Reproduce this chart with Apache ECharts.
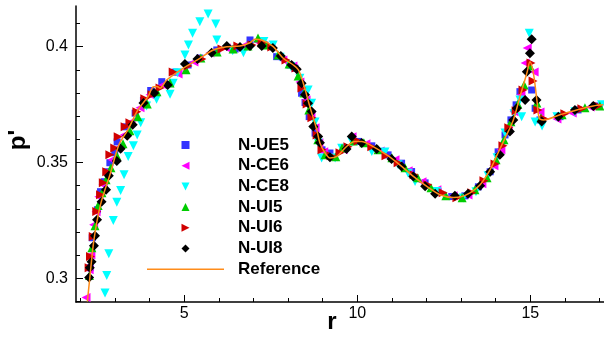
<!DOCTYPE html>
<html><head><meta charset="utf-8">
<script src="https://cdn.jsdelivr.net/npm/echarts@6/dist/echarts.min.js"></script>
<style>html,body{margin:0;padding:0;background:#fff}#c{width:604px;height:341px}</style>
</head><body><div id="c"></div>
<script>
const xTicks = [5, 10, 15];
const yTicks = [0.3, 0.35, 0.4];
const seriesNames = ['N-UE5', 'N-CE6', 'N-CE8', 'N-UI5', 'N-UI6', 'N-UI8', 'Reference'];

const nUE5 = [[2.28,0.3046],[2.34,0.3175],[2.49,0.3296],[2.58,0.3374],[2.68,0.3417],[2.77,0.3460],[2.85,0.3499],[2.99,0.3542],[3.06,0.3589],[3.32,0.3654],[3.58,0.3713],[3.82,0.3768],[4.03,0.3811],[4.35,0.3849],[4.73,0.3890],[5.11,0.3921],[5.45,0.3951],[5.94,0.3986],[6.47,0.3990],[6.90,0.4029],[7.33,0.4007],[7.67,0.3957],[8.05,0.3921],[8.20,0.3907],[8.39,0.3799],[8.49,0.3759],[8.61,0.3698],[8.78,0.3627],[8.98,0.3555],[9.21,0.3541],[9.64,0.3563],[10.03,0.3591],[10.42,0.3572],[10.89,0.3533],[11.28,0.3497],[11.57,0.3461],[11.96,0.3412],[12.33,0.3374],[12.73,0.3353],[13.11,0.3356],[13.50,0.3395],[13.84,0.3460],[14.07,0.3546],[14.27,0.3619],[14.44,0.3684],[14.59,0.3749],[14.70,0.3806],[15.04,0.3813],[15.14,0.3734],[15.28,0.3684],[15.86,0.3698],[16.38,0.3727],[16.87,0.3744]];

const nCE6 = [[2.16,0.2917],[2.25,0.3037],[2.30,0.3102],[2.38,0.3231],[2.45,0.3287],[2.53,0.3352],[2.65,0.3404],[2.77,0.3460],[2.91,0.3512],[3.08,0.3563],[3.26,0.3619],[3.46,0.3675],[3.72,0.3736],[4.01,0.3792],[4.38,0.3835],[4.82,0.3882],[5.28,0.3934],[5.74,0.3973],[6.21,0.3994],[6.70,0.4003],[7.13,0.4020],[7.50,0.3999],[7.85,0.3943],[8.14,0.3917],[8.34,0.3848],[8.52,0.3770],[8.66,0.3706],[8.78,0.3650],[8.89,0.3585],[9.03,0.3546],[9.30,0.3525],[9.59,0.3555],[9.85,0.3611],[10.25,0.3581],[10.66,0.3550],[11.09,0.3512],[11.47,0.3464],[11.87,0.3417],[12.30,0.3382],[12.77,0.3356],[13.20,0.3360],[13.60,0.3408],[13.95,0.3486],[14.15,0.3555],[14.36,0.3641],[14.53,0.3719],[14.73,0.3792],[14.85,0.3930],[14.91,0.3994],[15.11,0.3891],[15.28,0.3718],[15.77,0.3688],[16.21,0.3714],[16.73,0.3740]];

const nCE8 = [[2.71,0.2937],[2.76,0.3012],[2.82,0.3106],[2.95,0.3250],[3.05,0.3328],[3.16,0.3379],[3.26,0.3447],[3.38,0.3526],[3.53,0.3572],[3.64,0.3619],[3.74,0.3672],[3.91,0.3744],[4.20,0.3773],[4.59,0.3795],[4.68,0.3842],[4.80,0.3888],[5.02,0.3964],[5.12,0.4007],[5.24,0.4058],[5.45,0.4108],[5.69,0.4141],[5.91,0.4098],[5.94,0.4029],[6.40,0.3983],[6.71,0.3974],[7.30,0.4022],[7.57,0.4007],[7.77,0.3954],[8.08,0.3914],[8.34,0.3864],[8.58,0.3813],[8.68,0.3756],[8.78,0.3675],[8.87,0.3584],[8.97,0.3519],[9.36,0.3519],[9.55,0.3562],[9.85,0.3589],[10.42,0.3547],[10.80,0.3545],[11.18,0.3490],[11.47,0.3454],[11.67,0.3418],[12.30,0.3375],[13.06,0.3347],[13.43,0.3374],[13.78,0.3443],[14.04,0.3520],[14.27,0.3627],[14.53,0.3710],[14.75,0.3698],[14.70,0.3770],[14.97,0.4058],[15.14,0.3675],[15.34,0.3658],[15.77,0.3697],[16.29,0.3719],[17.06,0.3749]];

const nUI5 = [[2.26,0.3012],[2.33,0.3132],[2.42,0.3227],[2.51,0.3314],[2.62,0.3369],[2.74,0.3426],[2.88,0.3477],[3.05,0.3529],[3.23,0.3581],[3.43,0.3637],[3.66,0.3697],[3.93,0.3753],[4.21,0.3805],[4.59,0.3843],[5.05,0.3900],[5.48,0.3951],[5.95,0.3977],[6.41,0.3990],[6.84,0.4003],[7.13,0.4037],[7.36,0.4007],[7.71,0.3964],[8.03,0.3925],[8.29,0.3874],[8.46,0.3800],[8.60,0.3727],[8.75,0.3667],[8.86,0.3598],[9.07,0.3533],[9.38,0.3525],[9.56,0.3563],[9.88,0.3593],[10.19,0.3585],[10.60,0.3555],[11.00,0.3520],[11.38,0.3477],[11.75,0.3434],[12.13,0.3391],[12.56,0.3356],[13.03,0.3348],[13.40,0.3382],[13.75,0.3434],[14.01,0.3512],[14.24,0.3598],[14.44,0.3676],[14.64,0.3753],[14.82,0.3835],[14.99,0.3917],[15.19,0.3757],[15.31,0.3693],[15.92,0.3706],[16.58,0.3736],[17.01,0.3744]];

const nUI6 = [[2.25,0.3046],[2.29,0.3094],[2.37,0.3180],[2.47,0.3288],[2.58,0.3361],[2.66,0.3413],[2.76,0.3460],[2.85,0.3533],[2.99,0.3563],[3.09,0.3611],[3.29,0.3654],[3.43,0.3672],[3.63,0.3719],[3.86,0.3775],[4.07,0.3792],[4.30,0.3822],[4.68,0.3891],[5.11,0.3917],[5.51,0.3947],[6.09,0.3990],[6.55,0.4003],[6.96,0.4007],[7.25,0.4016],[7.53,0.3999],[7.94,0.3943],[8.23,0.3908],[8.40,0.3822],[8.55,0.3753],[8.69,0.3693],[8.84,0.3619],[8.98,0.3555],[9.24,0.3529],[9.50,0.3542],[9.73,0.3568],[10.02,0.3593],[10.42,0.3568],[10.83,0.3529],[11.18,0.3499],[11.64,0.3447],[12.04,0.3404],[12.48,0.3369],[12.88,0.3348],[13.31,0.3369],[13.66,0.3421],[13.98,0.3494],[14.21,0.3572],[14.38,0.3650],[14.59,0.3723],[14.79,0.3813],[15.02,0.3930],[15.08,0.3852],[15.22,0.3727],[15.42,0.3688],[16.00,0.3710],[16.49,0.3732],[16.96,0.3744]];

const nUI8 = [[2.25,0.3003],[2.27,0.3046],[2.32,0.3072],[2.39,0.3141],[2.42,0.3184],[2.48,0.3253],[2.61,0.3331],[2.74,0.3382],[2.82,0.3443],[3.05,0.3507],[3.16,0.3559],[3.35,0.3615],[3.51,0.3663],[3.82,0.3757],[4.13,0.3800],[4.52,0.3835],[5.02,0.3925],[5.38,0.3947],[5.79,0.3974],[6.23,0.4003],[6.61,0.3999],[6.90,0.4003],[7.24,0.4003],[7.56,0.3994],[7.79,0.3960],[8.10,0.3921],[8.25,0.3903],[8.39,0.3842],[8.49,0.3792],[8.58,0.3756],[8.68,0.3720],[8.73,0.3655],[8.87,0.3612],[8.92,0.3585],[9.21,0.3523],[9.69,0.3558],[9.84,0.3612],[10.13,0.3584],[10.56,0.3558],[10.99,0.3515],[11.28,0.3483],[11.62,0.3440],[11.96,0.3397],[12.25,0.3365],[12.82,0.3356],[13.20,0.3365],[13.55,0.3400],[13.84,0.3460],[14.12,0.3533],[14.41,0.3634],[14.51,0.3684],[14.61,0.3734],[14.85,0.3770],[14.90,0.3892],[14.99,0.3972],[15.04,0.4032],[15.18,0.3770],[15.33,0.3677],[15.81,0.3698],[16.29,0.3727],[16.82,0.3744]];

const reference = [[2.20,0.2900],[2.27,0.3002],[2.39,0.3167],[2.58,0.3318],[2.87,0.3456],[3.11,0.3576],[3.37,0.3641],[3.66,0.3727],[3.95,0.3784],[4.10,0.3826],[4.21,0.3828],[4.30,0.3821],[4.49,0.3856],[4.97,0.3907],[5.45,0.3950],[5.84,0.3986],[6.23,0.4000],[6.61,0.4003],[6.90,0.4017],[7.04,0.4032],[7.24,0.4029],[7.57,0.4000],[7.86,0.3950],[8.15,0.3921],[8.30,0.3900],[8.44,0.3842],[8.63,0.3741],[8.83,0.3641],[8.92,0.3584],[9.07,0.3541],[9.21,0.3519],[9.41,0.3526],[9.69,0.3569],[9.93,0.3591],[10.13,0.3591],[10.37,0.3576],[10.85,0.3533],[11.23,0.3490],[11.62,0.3440],[12.01,0.3397],[12.39,0.3361],[12.78,0.3349],[12.97,0.3351],[13.26,0.3369],[13.55,0.3404],[13.84,0.3469],[14.04,0.3533],[14.27,0.3605],[14.51,0.3684],[14.70,0.3784],[14.90,0.3885],[14.99,0.3935],[15.09,0.3885],[15.19,0.3770],[15.26,0.3691],[15.38,0.3684],[15.86,0.3706],[16.34,0.3727],[16.82,0.3744],[17.11,0.3749]];

const FONT = 'Liberation Sans, Arial, sans-serif';
const chart = echarts.init(document.getElementById('c'), null, {renderer: 'canvas'});

const legendIcons = {
  'N-UE5': 'path://M0,0 L1,0 L1,1 L0,1 Z',
  'N-CE6': 'path://M0,0.5 L1,0 L1,1 Z',
  'N-CE8': 'path://M0,0 L1,0 L0.5,1 Z',
  'N-UI5': 'path://M0.5,0 L1,1 L0,1 Z',
  'N-UI6': 'path://M0,0 L1,0.5 L0,1 Z',
  'N-UI8': 'path://M0.5,0 L1,0.5 L0.5,1 L0,0.5 Z',
  'Reference': 'path://M0,0 L77,0 L77,1.5 L0,1.5 Z'
};

function scatter(name, data, symbol, size, rotate, color, z) {
  return {name, type: 'scatter', data, symbol, symbolSize: size, symbolRotate: rotate,
    itemStyle: {color, opacity: 1}, z, animation: false};
}

const axisCommon = {
  type: 'value',
  axisLine: {show: true, onZero: false, lineStyle: {color: '#000', width: 1.5}},
  axisTick: {show: true, inside: true, length: 7, lineStyle: {color: '#000', width: 1}},
  minorTick: {show: true, splitNumber: 5, length: 4, lineStyle: {color: '#000', width: 1}},
  splitLine: {show: false},
  minorSplitLine: {show: false},
  splitNumber: 3,
  nameMoveOverlap: false
};

chart.setOption({
  animation: false,
  backgroundColor: '#fff',
  grid: {left: 76, top: 6, right: 0, bottom: 39, containLabel: false, outerBoundsMode: 'none'},
  legend: {
    data: seriesNames.map(n => ({name: n, icon: legendIcons[n]})),
    orient: 'vertical', left: 147, top: 136.5, padding: 0,
    itemWidth: 77, itemHeight: 8, itemGap: 3.7, symbolKeepAspect: true, symbolRotate: 0,
    textStyle: {fontSize: 17, fontWeight: 'bold', color: '#000', fontFamily: FONT, padding: [0, 0, 0, 9]}
  },
  xAxis: Object.assign({}, axisCommon, {
    min: 1.871, max: 17.13,
    axisTick: Object.assign({}, axisCommon.axisTick, {customValues: xTicks}),
    axisLabel: {customValues: xTicks, margin: 4, fontSize: 16, color: '#000', fontFamily: FONT},
    name: 'r', nameLocation: 'middle', nameGap: 8,
    nameTextStyle: {fontSize: 24, fontWeight: 'bold', color: '#000', fontFamily: FONT, padding: [0, 16, 0, 0]}
  }),
  yAxis: Object.assign({}, axisCommon, {
    min: 0.28977, max: 0.41757,
    axisTick: Object.assign({}, axisCommon.axisTick, {customValues: yTicks}),
    axisLabel: {customValues: yTicks, margin: 8, fontSize: 16, color: '#000', fontFamily: FONT},
    name: "p'", nameLocation: 'middle', nameGap: 46, nameRotate: 90,
    nameTextStyle: {fontSize: 24, fontWeight: 'bold', color: '#000', fontFamily: FONT, padding: [0, 0, 0, 28]}
  }),
  series: [
    scatter('N-UE5', nUE5, 'rect', 7, 0, '#3333ff', 2),
    scatter('N-CE6', nCE6, 'triangle', 9, 90, '#ff00ff', 3),
    scatter('N-CE8', nCE8, 'triangle', 9, 180, '#00ffff', 4),
    scatter('N-UI5', nUI5, 'triangle', 9, 0, '#00cc00', 5),
    scatter('N-UI6', nUI6, 'triangle', 9, -90, '#d00000', 6),
    scatter('N-UI8', nUI8, 'diamond', 10, 0, '#000000', 7),
    {name: 'Reference', type: 'line', data: reference, symbol: 'none', smooth: 0.3,
      lineStyle: {color: '#ff8c1a', width: 1.5}, itemStyle: {color: '#ff8c1a'}, z: 8, animation: false}
  ]
});
</script></body></html>
